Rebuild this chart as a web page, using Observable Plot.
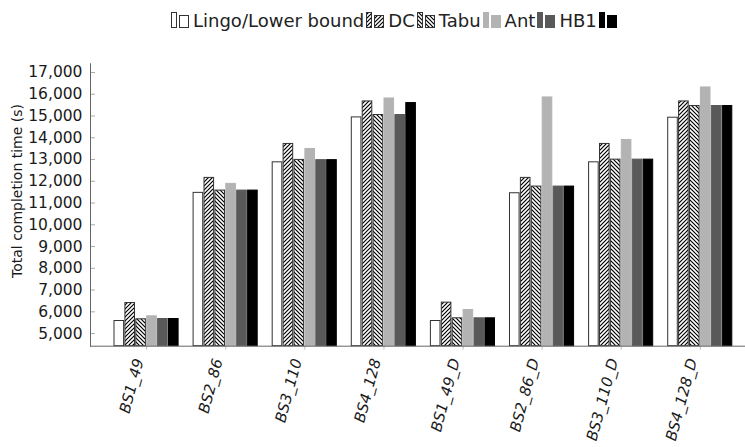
<!DOCTYPE html>
<html><head><meta charset="utf-8">
<script src="https://cdn.jsdelivr.net/npm/d3@7"></script>
<script src="https://cdn.jsdelivr.net/npm/@observablehq/plot@0.6"></script>
<style>
html,body{margin:0;padding:0;background:#fff;}
body{width:745px;height:447px;overflow:hidden;font-family:"DejaVu Sans",sans-serif;}
#legend{height:38px;display:flex;align-items:center;padding-left:171px;font-size:18px;color:#222;box-sizing:border-box;padding-top:2px;}
.item{display:flex;align-items:center;margin-right:2px;}
.item svg{display:block;margin-right:3px;}
#chart svg{display:block;}
</style></head>
<body>
<svg width="0" height="0" style="position:absolute">
  <defs>
    <pattern id="hatchDC" patternUnits="userSpaceOnUse" width="4" height="4">
      <rect width="4" height="4" fill="#fff"/>
      <path d="M-1,1 l2,-2 M0,4 l4,-4 M3,5 l2,-2" stroke="#000" stroke-width="1.2"/>
    </pattern>
    <pattern id="hatchTabu" patternUnits="userSpaceOnUse" width="4" height="4">
      <rect width="4" height="4" fill="#fff"/>
      <path d="M-1,3 l2,2 M0,0 l4,4 M3,-1 l2,2" stroke="#000" stroke-width="1.2"/>
    </pattern>
  </defs>
</svg>
<div id="legend"></div>
<div id="chart"></div>
<script>
// ---- data ----
const groups = ["BS1_49","BS2_86","BS3_110","BS4_128","BS1_49_D","BS2_86_D","BS3_110_D","BS4_128_D"];
const seriesNames = ["Lingo/Lower bound","DC","Tabu","Ant","HB1","HB2"];
const legendLabels = ["Lingo/Lower bound","DC","Tabu","Ant","HB1",""];
const lingo = [5578, 11468, 12872, 14936, 5578, 11450, 12872, 14922];
const dc    = [6404, 12156, 13716, 15670, 6422, 12156, 13716, 15670];
const tabu  = [5656, 11573, 12982, 15046, 5702, 11757, 12995, 15459];
const ant   = [5794, 11881, 13486, 15807, 6083, 15853, 13899, 16312];
const hb1   = [5670, 11573, 12972, 15046, 5702, 11757, 12995, 15459];
const hb2   = [5670, 11573, 12972, 15596, 5702, 11757, 12995, 15459];
const yTicks = [5000,6000,7000,8000,9000,10000,11000,12000,13000,14000,15000,16000,17000];
const yTitle = "Total completion time (s)";

// ---- styles ----
const fills = ["#ffffff","url(#hatchDC)","url(#hatchTabu)","#b3b3b3","#595959","#000000"];
const strokes = ["#333333","#333333","#333333","#b3b3b3","#595959","#000000"];

const valuesBySeries = [lingo, dc, tabu, ant, hb1, hb2];
const data = [];
seriesNames.forEach((s, i) => groups.forEach((g, j) => data.push({group: g, series: s, si: i, value: valuesBySeries[i][j]})));

// ---- legend ----
const legend = d3.select("#legend");
seriesNames.forEach((s, i) => {
  const it = legend.append("div").attr("class", "item");
  const sw = it.append("svg").attr("width", 19).attr("height", 18);
  sw.append("rect").attr("x", 0.5).attr("y", 1.5).attr("width", 5).attr("height", 15)
    .attr("fill", fills[i]).attr("stroke", strokes[i]);
  sw.append("rect").attr("x", 8.5).attr("y", 4.5).attr("width", 9).attr("height", 12)
    .attr("fill", fills[i]).attr("stroke", strokes[i]);
  if (legendLabels[i]) it.append("span").text(legendLabels[i]);
});

// ---- chart ----
const Y_MIN = 4420, Y_MAX = 17400;
const X_RANGE = [114, 732], PAD_INNER = 0.187;
const stepX = (X_RANGE[1] - X_RANGE[0]) / (groups.length - PAD_INNER);
const bw = stepX * (1 - PAD_INNER);
const BAR_STEP = 10.9, BAR_W = 9.6;
const fmt = d3.format(",");

const barMarks = seriesNames.map((s, i) => Plot.barY(data.filter(d => d.si === i), {
  x: "group", y1: Y_MIN, y2: "value",
  fill: fills[i], stroke: strokes[i], strokeWidth: 1,
  insetLeft: i * BAR_STEP, insetRight: bw - i * BAR_STEP - BAR_W
}));

const chart = Plot.plot({
  width: 745, height: 409,
  marginTop: 25.3, marginBottom: 101.3, marginLeft: 90, marginRight: 0,
  x: {domain: groups, range: X_RANGE, paddingInner: PAD_INNER, paddingOuter: 0, round: false},
  y: {domain: [Y_MIN, Y_MAX]},
  style: {fontFamily: "DejaVu Sans", fontSize: "15px", color: "#222", background: "#fff"},
  marks: [
    ...barMarks,
    Plot.axisY({ticks: yTicks, tickFormat: d => fmt(d), tickSize: 0, tickPadding: 8, fontSize: 15.5, fill: "#1a1a1a", label: null}),
    Plot.axisY({ticks: yTicks, tickSize: 5, dx: 5, tickFormat: () => "", stroke: "#aaa", label: null}),
    Plot.axisX({tickSize: 4, tickFormat: () => "", stroke: "#bbb", label: null}),
    Plot.frame({anchor: "left", stroke: "#666"}),
    Plot.frame({anchor: "bottom", stroke: "#666"}),
    Plot.text([yTitle], {text: d => d, frameAnchor: "left", textAnchor: "middle", rotate: -90, dx: -73, dy: -14, fontSize: 14, fill: "#1a1a1a"}),
    Plot.text(groups, {x: d => d, text: d => d, frameAnchor: "bottom", rotate: -75, textAnchor: "end",
      fontStyle: "italic", fontSize: 15, dx: -3, dy: 14, fill: "#1a1a1a"})
  ]
});
document.getElementById("chart").appendChild(chart);
</script>
</body></html>
